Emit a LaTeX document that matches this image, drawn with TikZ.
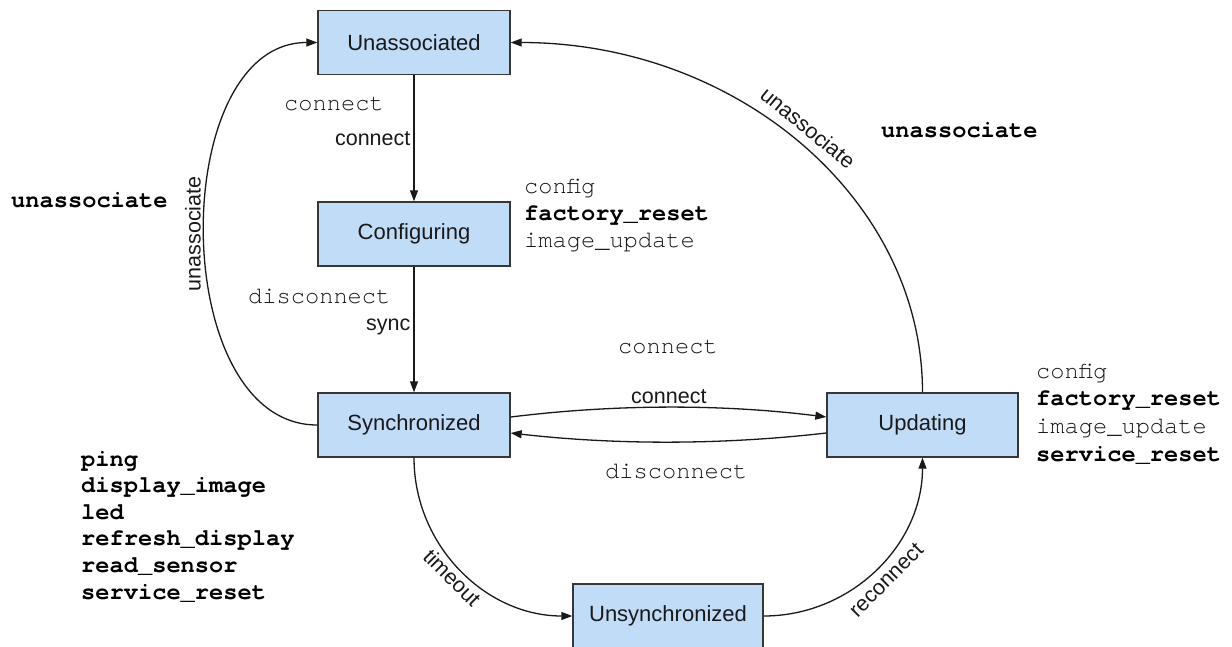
\documentclass[tikz,border=0pt]{standalone}
\usepackage{fontspec}
\setmainfont{Liberation Sans}
\newfontfamily\cour{TeX Gyre Cursor}
\usetikzlibrary{arrows.meta}
\definecolor{boxfill}{RGB}{192,220,247}
\definecolor{boxline}{RGB}{55,55,55}
\definecolor{lineclr}{RGB}{25,25,25}
\definecolor{monogray}{RGB}{20,20,20}
\newcommand\codeblock[2]{\vtop{\baselineskip=#1\lineskiplimit=-100pt\lineskip=0pt #2}}
\newcommand\rl[1]{\hbox{\color{monogray}\mdseries #1}}
\newcommand\bl[1]{\hbox{\color{black}\bfseries #1}}
\begin{document}
\begin{tikzpicture}[x=1pt,y=-1pt,
  state/.style={draw=boxline, fill=boxfill, line width=1.4pt, minimum width=192pt,
    minimum height=64pt, inner sep=0pt, text=black!90, font=\fontsize{22}{26}\selectfont},
  trans/.style={draw=lineclr, line width=1.3pt, -{Triangle[length=11pt,width=8pt]}},
  elabel/.style={font=\fontsize{21.5}{25}\selectfont, inner sep=3pt, text=black!90},
  code/.style={font=\cour\fontsize{23.7}{27}\selectfont, text=monogray, inner sep=0pt, anchor=base west},
  codeb/.style={code, text=black, font=\cour\bfseries\fontsize{23.7}{27}\selectfont}
]
\useasboundingbox (0,0) rectangle (1232,646);

\node[state] (ua) at (414,42.5) {Unassociated};
\node[state] (cf) at (414,234) {Configuring};
\node[state] (sy) at (414,425) {Synchronized};
\node[state, minimum width=191pt] (up) at (922.5,425) {Updating};
\node[state, minimum width=190pt] (us) at (668,616) {Unsynchronized};

\draw[trans] (ua) -- node[elabel, left] {connect} (cf);
\draw[trans] (cf) -- node[elabel, left, pos=0.48] {sync} (sy);
\draw[trans] (sy.west) .. controls (167,425) and (167,42.5) .. node[elabel, sloped, above] {unassociate} (ua.west);
\draw[trans] (up.north) .. controls (922.5,199) and (737,42.5) .. node[elabel, sloped, above=6pt, pos=0.51] {unassociate} (ua.east);
\draw[trans] ([yshift=8pt]sy.east) .. controls (616,404) and (722,404) .. node[elabel, above] {connect} ([yshift=8pt]up.west);
\draw[trans] ([yshift=-8pt]up.west) .. controls (722,445) and (616,445) .. ([yshift=-8pt]sy.east);
\draw[trans] (sy.south) .. controls (414,545) and (485,616) .. node[elabel, sloped, below] {timeout} (us.west);
\draw[trans] (us.east) .. controls (851,616) and (922.5,545) .. node[elabel, sloped, below=4pt] {reconnect} (up.south);

\node[code] (m1) at (284,110) {connect};
\node[code] (m2) at (248,303) {disconnect};
\node[code] (m3) at (618,353) {connect};
\node[code] (m4) at (605,478) {disconnect};
\node[codeb] (b1) at (11,207) {unassociate};
\node[codeb] (b2) at (881,137) {unassociate};
\node[code] (cfcmds) at (524,193) {\codeblock{27pt}{\rl{config}\bl{factory\_reset}\rl{image\_update}}};
\node[code] (upcmds) at (1036,378) {\codeblock{27.7pt}{\rl{config}\bl{factory\_reset}\rl{image\_update}\bl{service\_reset}}};
\node[code] (sycmds) at (81,466) {\codeblock{26.6pt}{\bl{ping}\bl{display\_image}\bl{led}\bl{refresh\_display}\bl{read\_sensor}\bl{service\_reset}}};
\end{tikzpicture}
\end{document}
